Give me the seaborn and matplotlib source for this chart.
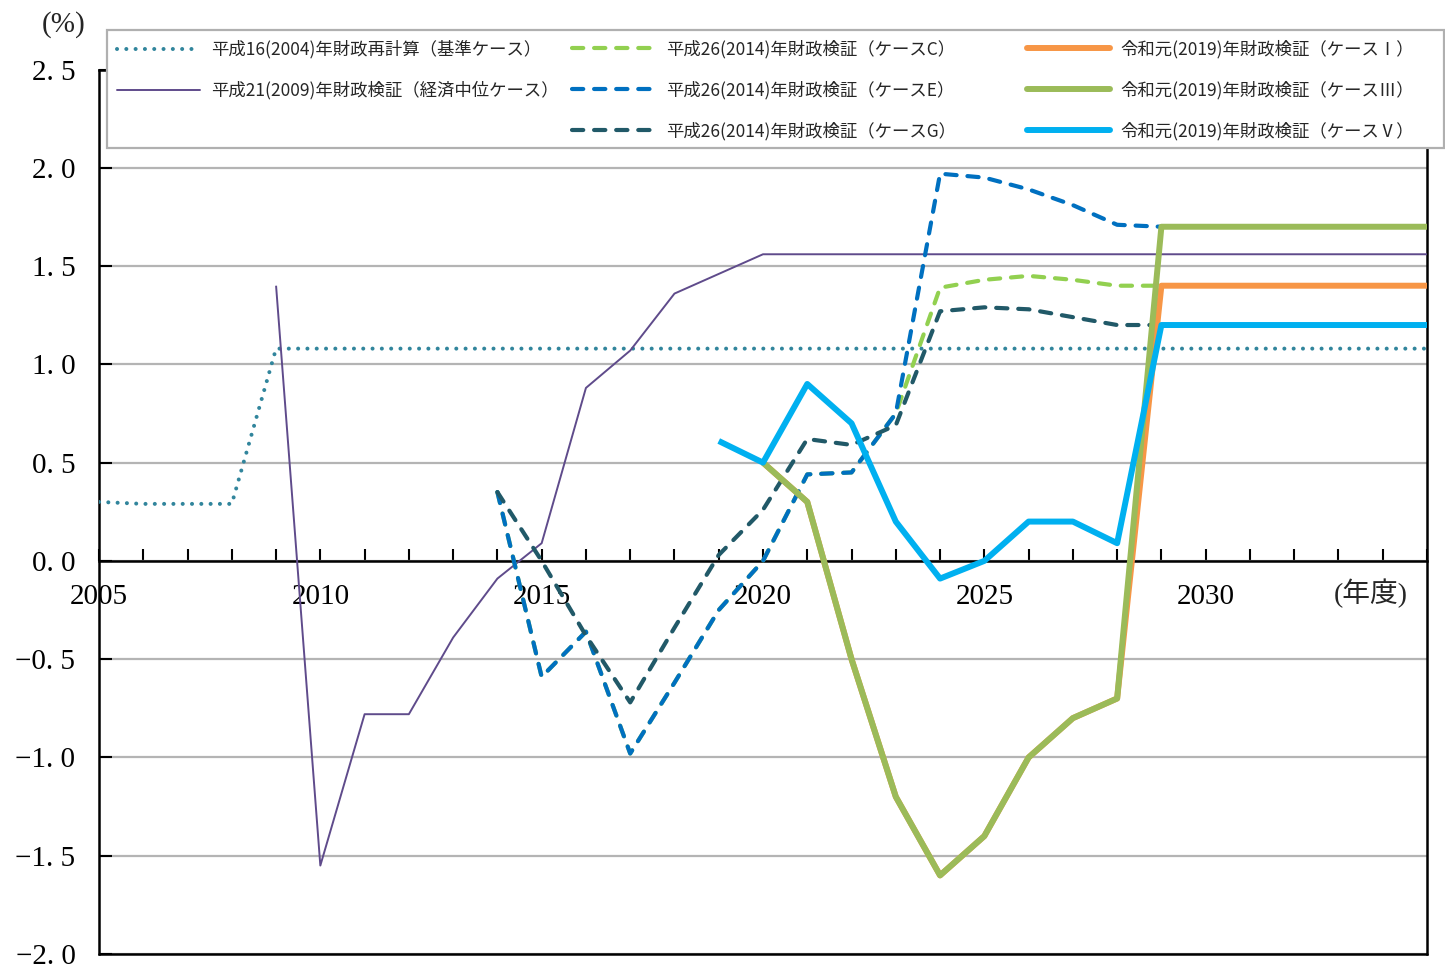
import pandas as pd
import matplotlib.pyplot as plt
from matplotlib.lines import Line2D
from matplotlib.patches import Rectangle
import seaborn as sns

# --- data ---
years_h16 = [2005, 2006, 2007, 2008, 2009, 2035]
vals_h16 = [0.30, 0.29, 0.29, 0.29, 1.08, 1.08]

years_h21 = [2009, 2010, 2011, 2012, 2013, 2014, 2015, 2016, 2017, 2018, 2019, 2020, 2035]
vals_h21 = [1.40, -1.55, -0.78, -0.78, -0.39, -0.09, 0.09, 0.88, 1.07, 1.36, 1.46, 1.56, 1.56]

years_h26 = [2014, 2015, 2016, 2017, 2018, 2019, 2020, 2021, 2022, 2023, 2024, 2025, 2026, 2027, 2028, 2029]
vals_h26_c = [0.35, -0.59, -0.36, -0.98, -0.62, -0.25, 0.00, 0.44, 0.45, 0.75, 1.39, 1.43, 1.45, 1.43, 1.40, 1.40]
vals_h26_e = [0.35, -0.59, -0.36, -0.98, -0.62, -0.25, 0.00, 0.44, 0.45, 0.75, 1.97, 1.95, 1.89, 1.81, 1.71, 1.70]
vals_h26_g = [0.35, 0.00, -0.38, -0.72, -0.34, 0.03, 0.26, 0.62, 0.59, 0.69, 1.27, 1.29, 1.28, 1.24, 1.20, 1.20]

years_r1_v = [2019, 2020, 2021, 2022, 2023, 2024, 2025, 2026, 2027, 2028, 2029, 2035]
vals_r1_v = [0.61, 0.50, 0.90, 0.70, 0.20, -0.09, 0.00, 0.20, 0.20, 0.09, 1.20, 1.20]
years_r1 = [2020, 2021, 2022, 2023, 2024, 2025, 2026, 2027, 2028, 2029, 2035]
vals_r1_i = [0.50, 0.30, -0.50, -1.20, -1.60, -1.40, -1.00, -0.80, -0.70, 1.40, 1.40]
vals_r1_iii = [0.50, 0.30, -0.50, -1.20, -1.60, -1.40, -1.00, -0.80, -0.70, 1.70, 1.70]

names = [
    "平成16(2004)年財政再計算（基準ケース）",
    "平成21(2009)年財政検証（経済中位ケース）",
    "平成26(2014)年財政検証（ケースC）",
    "平成26(2014)年財政検証（ケースE）",
    "平成26(2014)年財政検証（ケースG）",
    "令和元(2019)年財政検証（ケースⅠ）",
    "令和元(2019)年財政検証（ケースⅢ）",
    "令和元(2019)年財政検証（ケースⅤ）",
]

y_ticks = [-2.0, -1.5, -1.0, -0.5, 0.0, 0.5, 1.0, 1.5, 2.0, 2.5]
y_labels = ["−2. 0", "−1. 5", "−1. 0", "−0. 5", "0. 0", "0. 5", "1. 0", "1. 5", "2. 0", "2. 5"]
x_label_years = [2005, 2010, 2015, 2020, 2025, 2030]

frames = []
for name, xs, ys in zip(
    names,
    [years_h16, years_h21, years_h26, years_h26, years_h26, years_r1, years_r1, years_r1_v],
    [vals_h16, vals_h21, vals_h26_c, vals_h26_e, vals_h26_g, vals_r1_i, vals_r1_iii, vals_r1_v],
):
    frames.append(pd.DataFrame({"series": name, "year": xs, "value": ys}))
df = pd.concat(frames, ignore_index=True)

# --- styles ---
dash = (0, (2.7, 2.6))
styles = {
    names[0]: dict(color="#31859C", lw=2.9, ls=(0, (0.01, 2.3))),
    names[1]: dict(color="#5F4B8B", lw=1.4, ls="-"),
    names[2]: dict(color="#92D050", lw=3.0, ls=dash),
    names[3]: dict(color="#0070C0", lw=3.0, ls=dash),
    names[4]: dict(color="#215968", lw=3.0, ls=dash),
    names[5]: dict(color="#F79646", lw=4.3, ls="-"),
    names[6]: dict(color="#9BBB59", lw=4.3, ls="-"),
    names[7]: dict(color="#00B0F0", lw=4.3, ls="-"),
}

sns.set_theme(style="white")
plt.rcParams["font.family"] = ["Liberation Serif", "Noto Sans CJK JP"]

fig = plt.figure(figsize=(14.45, 9.68), dpi=100)
ax = fig.add_axes([99 / 1445, 1 - 954 / 968, (1427 - 99) / 1445, (954 - 69.5) / 968])

handles = {}
for name in names:
    st = styles[name]
    sns.lineplot(data=df[df["series"] == name], x="year", y="value", ax=ax,
                 color=st["color"], linewidth=st["lw"], linestyle=st["ls"],
                 dash_capstyle="round", solid_capstyle="butt", legend=False, zorder=3)
    handles[name] = Line2D([], [], color=st["color"], linewidth=st["lw"], linestyle=st["ls"],
                           dash_capstyle="round", solid_capstyle="round")

ax.set_xlim(2005, 2035)
ax.set_ylim(-2.0, 2.5)
ax.set_xlabel("")
ax.set_ylabel("")

ax.set_yticks(y_ticks)
ax.set_yticklabels(y_labels)
ax.set_xticks(list(range(2005, 2036)))
ax.set_xticklabels([str(y) if y in x_label_years else "" for y in range(2005, 2036)])

ax.set_axisbelow(True)
ax.yaxis.grid(True, color="#b4b4b4", linewidth=1.6)
ax.xaxis.grid(False)

for side in ["left", "right", "bottom", "top"]:
    ax.spines[side].set_color("black")
    ax.spines[side].set_linewidth(1.8)
ax.spines["bottom"].set_position(("data", 0))
ax.axhline(-2.0, color="black", linewidth=1.8, clip_on=False, zorder=2.5)

ax.tick_params(axis="x", direction="in", length=9, width=1.5, pad=17,
               labelsize=21, colors="black", bottom=True)
ax.tick_params(axis="y", direction="in", length=9, width=1.5, pad=17,
               labelsize=21, colors="black", left=True)

fig.text(64 / 1445, 1 - 25 / 968, "(%)", ha="center", va="center", fontsize=21)
fig.text(1371 / 1445, 1 - 593 / 968, "(年度)", ha="center", va="center", fontsize=20)

# legend frame and three legend columns
fig.patches.append(Rectangle((107 / 1445, 1 - 148 / 968), (1444 - 107) / 1445, (148 - 30) / 968,
                             transform=fig.transFigure, facecolor="white",
                             edgecolor="#b0b0b0", linewidth=1.6, zorder=4))
leg_kw = dict(frameon=False, loc="center left", handlelength=4.8, handletextpad=0.6,
              labelspacing=1.3, borderpad=0, borderaxespad=0,
              prop={"family": "Noto Sans CJK JP", "size": 12.5})
for cols, x0, yc in [(names[0:2], 117, 70), (names[2:5], 572, 90), (names[5:8], 1027, 90)]:
    leg = fig.legend([handles[n] for n in cols], cols,
                     bbox_to_anchor=(x0 / 1445, 1 - yc / 968), **leg_kw)
    leg.set_zorder(5)

fig.savefig("out.png", dpi=100)
